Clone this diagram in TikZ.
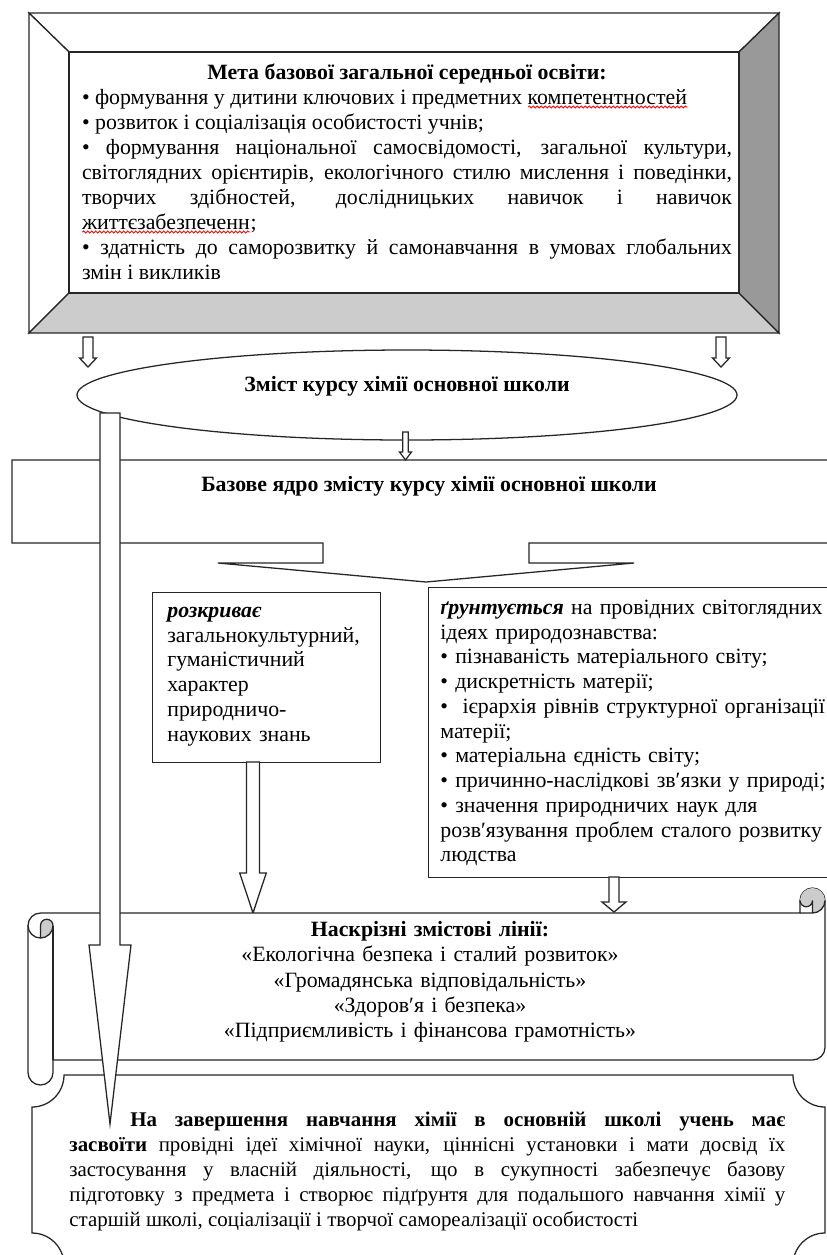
\documentclass[tikz,border=0pt]{standalone}
\usepackage{fontspec}
\setmainfont{Liberation Serif}
\usetikzlibrary{shapes.geometric, decorations.pathmorphing}

% червона хвиляста лінія під словом
\newcommand{\spellwave}[1]{\setbox0\hbox{#1}\rlap{#1}\raisebox{-2.2pt}[0pt][0pt]{\tikz\draw[red, line width=0.45pt,
  decorate, decoration={snake, amplitude=0.6pt, segment length=2.2pt}] (0pt,0pt) -- (\wd0,0pt);}}

% порожниста стрілка: x, верх, вістря, пів-ширина стрижня, пів-ширина голівки, довжина голівки
\newcommand{\blockarrow}[6]{%
  \draw[arrowline] (#1-#4,#2) -- (#1+#4,#2) -- (#1+#4,#3-#6) -- (#1+#5,#3-#6)
    -- (#1,#3) -- (#1-#5,#3-#6) -- (#1-#4,#3-#6) -- cycle;}

\begin{document}
\begin{tikzpicture}[x=0.55pt, y=-0.55pt,
  frameline/.style={draw=black!85, line width=0.7pt},
  arrowline/.style={draw=black!85, fill=white, line width=0.7pt},
  txt/.style={inner sep=0pt, font=\fontsize{12}{13.75}\selectfont}]

\useasboundingbox (0,0) rectangle (827,1255);
\clip (0,0) rectangle (827,1255);

% Рамка з метою
\draw[frameline, fill=white] (29,13) -- (779,13) -- (739,52) -- (69,52) -- cycle;
\draw[frameline, fill=white] (29,13) -- (69,52) -- (69,293) -- (29,333) -- cycle;
\draw[frameline, fill=black!20] (29,333) -- (69,293) -- (739,293) -- (779,333) -- cycle;
\draw[frameline, fill=black!40] (779,13) -- (779,333) -- (739,293) -- (739,52) -- cycle;
\draw[frameline] (69,52) rectangle (739,293);

\node[txt, text width=357.5pt, align=justify, anchor=base] (meta) at (407,79.5)
  {\centerline{\bfseries Мета базової загальної середньої освіти:}\par
   • формування у дитини ключових і предметних \spellwave{компетентностей}\par
   • розвиток і соціалізація особистості учнів;\par
   • формування національної самосвідомості, загальної культури,\linebreak
   світоглядних орієнтирів, екологічного стилю мислення і поведінки,\linebreak
   творчих здібностей, дослідницьких навичок і навичок\linebreak
   \spellwave{життєзабезпеченн};\par
   • здатність до саморозвитку й самонавчання в умовах глобальних\linebreak
   змін і викликів\par};

% стрілки до еліпса
\blockarrow{88}{337}{367}{5}{8.5}{9}
\blockarrow{721}{337}{367}{5}{8.5}{9}

% Зміст курсу
\node[frameline, fill=white, ellipse, minimum width=363pt, minimum height=49.5pt, inner sep=0pt] (zmist) at (407,395) {};
\node[txt, font=\fontsize{12}{13.75}\selectfont\bfseries, anchor=base] (zmisttxt) at (407,391.5)
  {Зміст курсу хімії основної школи};

% Базове ядро
\draw[frameline, fill=white] (12,460) -- (850,460) -- (850,543) -- (529,543) -- (529,563)
  -- (634,563) -- (426,582) -- (218,563) -- (323,563) -- (323,543) -- (12,543) -- cycle;
\node[txt, font=\fontsize{12}{13.75}\selectfont\bfseries, anchor=base] (yadro) at (429,491.5)
  {Базове ядро змісту курсу хімії основної школи};
\blockarrow{405.5}{432}{460}{2.7}{6}{8}

% розкриває
\node[frameline, fill=white, anchor=north west, minimum width=125.4pt, minimum height=93.5pt] (rozkr) at (152,592) {};
\node[txt, text width=115pt, align=left, anchor=base west, font=\fontsize{12}{13.6}\selectfont] (rozkrtxt) at (167,617.5)
  {\textbf{\textit{розкриває}}\\ загальнокультурний,\\ гуманістичний\\ характер\\ природничо-\\ наукових знань};

% ґрунтується
\node[frameline, fill=white, anchor=north west, minimum width=232.1pt, minimum height=159.5pt] (grunt) at (428,587) {};
\node[txt, text width=225pt, align=left, anchor=base west, font=\fontsize{12}{13.6}\selectfont] (grunttxt) at (440,614.5)
  {\textbf{\textit{ґрунтується}} на провідних світоглядних\\
   ідеях природознавства:\\
   • пізнаваність матеріального світу;\\
   • дискретність матерії;\\
   \makebox[211.5pt][s]{•\ \ ієрархія рівнів структурної організації}\\
   матерії;\\
   • матеріальна єдність світу;\\
   • причинно-наслідкові зв′язки у природі;\\
   • значення природничих наук для\\
   розв′язування проблем сталого розвитку\\
   людства};

% стрілки до сувою
\blockarrow{253}{762}{913}{6.6}{13.3}{40}
\blockarrow{614}{877}{912}{5}{12}{10}

% Сувій
\draw[frameline, fill=white] (28,925.5) arc[start angle=180, end angle=90, radius=6.875pt]
  -- (800,913) -- (800,900.5) arc[start angle=180, end angle=0, radius=6.875pt]
  -- (825,1047.5) arc[start angle=0, end angle=-90, radius=6.875pt]
  -- (53,1060) -- (53,1072.5) arc[start angle=0, end angle=-180, radius=6.875pt] -- cycle;
\fill[black!20] (40.5,938) arc[start angle=-90, end angle=0, radius=6.875pt]
  arc[start angle=0, end angle=180, radius=3.4375pt] -- cycle;
\fill[black!20] (812.5,913) arc[start angle=-90, end angle=180, radius=6.875pt]
  arc[start angle=180, end angle=360, radius=3.4375pt] -- cycle;
\draw[frameline] (800,913) -- (812.5,913) arc[start angle=-90, end angle=0, radius=6.875pt];
\draw[frameline] (812.5,913) -- (812.5,900.5) arc[start angle=0, end angle=-180, radius=3.4375pt];
\draw[frameline] (40.5,938) -- (40.5,925.5) arc[start angle=180, end angle=0, radius=3.4375pt]
  arc[start angle=0, end angle=-180, radius=6.875pt];
\draw[frameline] (53,925.5) -- (53,1060);

\node[txt, text width=400pt, align=center, anchor=base, font=\fontsize{12}{13.9}\selectfont] (liniyi) at (430,936.5)
  {{\bfseries Наскрізні змістові лінії:}\\
   «Екологічна безпека і сталий розвиток»\\
   «Громадянська відповідальність»\\
   «Здоров′я і безпека»\\
   «Підприємливість і фінансова грамотність»};

% Підсумок
\draw[frameline, fill=white] (64,1075) -- (793,1075) arc[start angle=180, end angle=270, radius=17.6pt]
  -- (825,1233) arc[start angle=90, end angle=180, radius=17.6pt]
  -- (64,1265) arc[start angle=0, end angle=90, radius=17.6pt]
  -- (32,1107) arc[start angle=270, end angle=360, radius=17.6pt] -- cycle;
\node[txt, text width=393.8pt, align=justify, anchor=base west, font=\fontsize{11.5}{13.75}\selectfont] (zasv) at (69,1126.5)
  {\hspace*{33.5pt}\textbf{На завершення навчання хімії в основній школі учень має\linebreak
   засвоїти} провідні ідеї хімічної науки, ціннісні установки і мати досвід їх\linebreak
   застосування у власній діяльності, що в сукупності забезпечує базову\linebreak
   підготовку з предмета і створює підґрунтя для подальшого навчання хімії у\linebreak
   старшій школі, соціалізації і творчої самореалізації особистості};

% довга стрілка
\blockarrow{110}{413}{1124}{10}{21}{179}

\end{tikzpicture}
\end{document}
